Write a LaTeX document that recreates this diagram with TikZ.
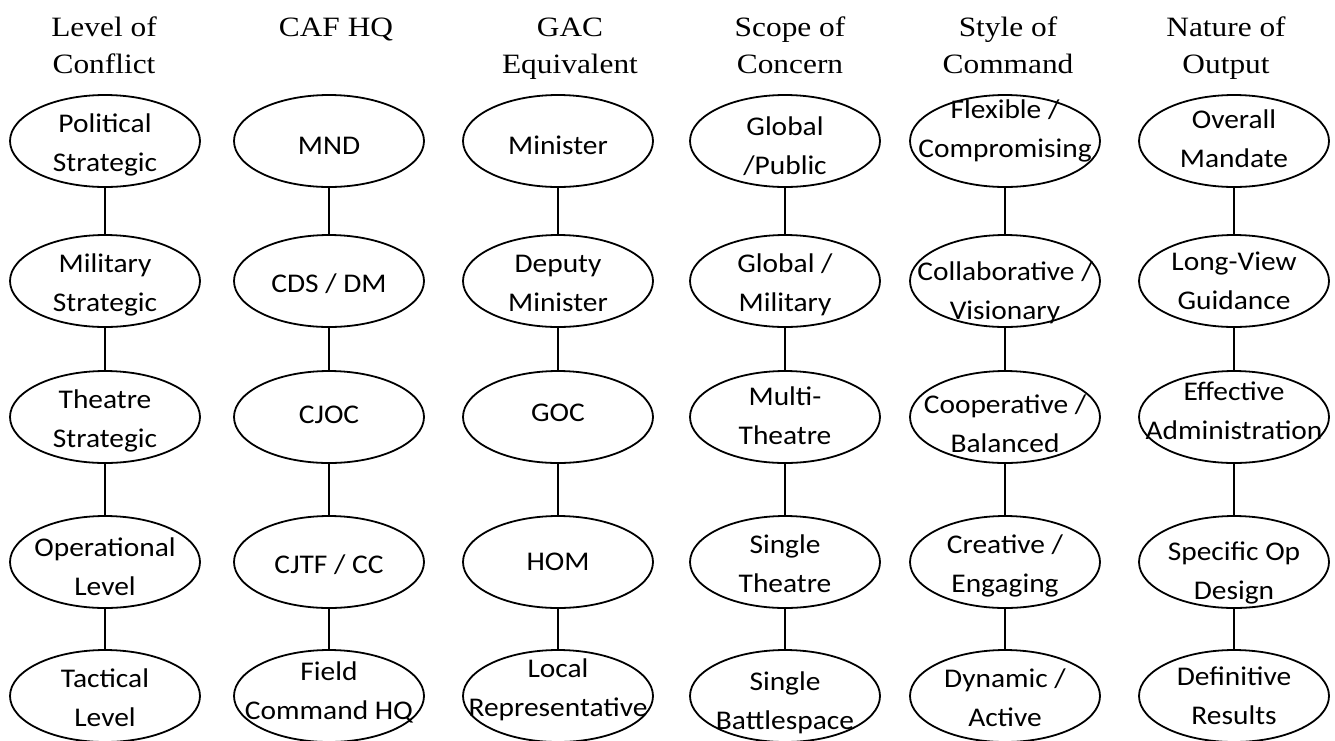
\documentclass[tikz,border=0pt]{standalone}
\usepackage{fontspec}
\setmainfont{Liberation Serif}
\newfontfamily\headfont[FakeStretch=1.12]{Liberation Serif}
\newfontfamily\ovalfont[FakeStretch=1.09]{Carlito}
\usetikzlibrary{shapes.geometric}

% text of an oval, kept out of the size of the ellipse
\newcommand\ovaltext[2][0pt]{\makebox[0pt]{\raisebox{\dimexpr#1-9.5pt\relax}[0pt][0pt]{\begin{tabular}{@{}c@{}}#2\end{tabular}}}}

\begin{document}
\begin{tikzpicture}[x=1pt,y=1pt,
  oval/.style={ellipse,draw,line width=1.8pt,minimum width=190pt,minimum height=92pt,inner sep=0pt,
    font=\ovalfont\fontsize{27}{39}\selectfont},
  head/.style={align=center,anchor=base,font=\headfont\fontsize{28}{37}\selectfont},
  link/.style={line width=1.1pt}]
\useasboundingbox (0,0) rectangle (1335,-740);

% headings (base = last line)
\node[head] (hlv) at (104,-73) {Level of\\Conflict};
\node[head] (hcaf) at (336,-36) {CAF HQ};
\node[head] (hgac) at (570,-73) {GAC\\Equivalent};
\node[head] (hsc) at (790,-73) {Scope of\\Concern};
\node[head] (hst) at (1008,-73) {Style of\\Command};
\node[head] (hnt) at (1226,-73) {Nature of\\Output};

% level of conflict
\node[oval] (lv1) at (105,-141) {\ovaltext{Political\\Strategic}};
\node[oval] (lv2) at (105,-281) {\ovaltext{Military\\Strategic}};
\node[oval] (lv3) at (105,-417) {\ovaltext{Theatre\\Strategic}};
\node[oval] (lv4) at (105,-562) {\ovaltext[-3pt]{Operational\\Level}};
\node[oval] (lv5) at (105,-696) {\ovaltext{Tactical\\Level}};

% caf hq
\node[oval] (caf1) at (329,-141) {\ovaltext[-2.5pt]{MND}};
\node[oval] (caf2) at (329,-281) {\ovaltext{CDS / DM}};
\node[oval] (caf3) at (329,-417) {\ovaltext[4.5pt]{CJOC}};
\node[oval] (caf4) at (329,-562) {\ovaltext{CJTF / CC}};
\node[oval] (caf5) at (329,-696) {\ovaltext[7pt]{Field\\Command HQ}};

% gac
\node[oval] (gac1) at (558,-141) {\ovaltext[-2.5pt]{Minister}};
\node[oval] (gac2) at (558,-281) {\ovaltext{Deputy\\Minister}};
\node[oval] (gac3) at (558,-417) {\ovaltext[7pt]{GOC}};
\node[oval] (gac4) at (558,-562) {\ovaltext[3pt]{HOM}};
\node[oval] (gac5) at (558,-696) {\ovaltext[10pt]{Local\\Representative}};

% scope
\node[oval] (sc1) at (785,-141) {\ovaltext[-3pt]{Global\\/Public}};
\node[oval] (sc2) at (785,-281) {\ovaltext{Global /\\Military}};
\node[oval] (sc3) at (785,-417) {\ovaltext[3pt]{Multi-\\Theatre}};
\node[oval] (sc4) at (785,-562) {\ovaltext{Single\\Theatre}};
\node[oval] (sc5) at (785,-696) {\ovaltext[-3pt]{Single\\Battlespace}};

% style of command
\node[oval] (st1) at (1005,-141) {\ovaltext[14pt]{Flexible /\\Compromising}};
\node[oval] (st2) at (1005,-281) {\ovaltext[-8pt]{Collaborative /\\Visionary}};
\node[oval] (st3) at (1005,-417) {\ovaltext[-5pt]{Cooperative /\\Balanced}};
\node[oval] (st4) at (1005,-562) {\ovaltext{Creative /\\Engaging}};
\node[oval] (st5) at (1005,-696) {\ovaltext{Dynamic /\\Active}};

% output
\node[oval] (nt1) at (1234,-141) {\ovaltext[4pt]{Overall\\Mandate}};
\node[oval] (nt2) at (1234,-281) {\ovaltext[2pt]{Long-View\\Guidance}};
\node[oval] (nt3) at (1234,-417) {\ovaltext[8pt]{Effective\\Administration}};
\node[oval] (nt4) at (1234,-562) {\ovaltext[-6.5pt]{Specific Op\\Design}};
\node[oval] (nt5) at (1234,-696) {\ovaltext[2pt]{Definitive\\Results}};

\foreach \c in {lv,caf,gac,sc,st,nt}
  \draw[link] (\c1) -- (\c2) -- (\c3) -- (\c4) -- (\c5);
\end{tikzpicture}
\end{document}
